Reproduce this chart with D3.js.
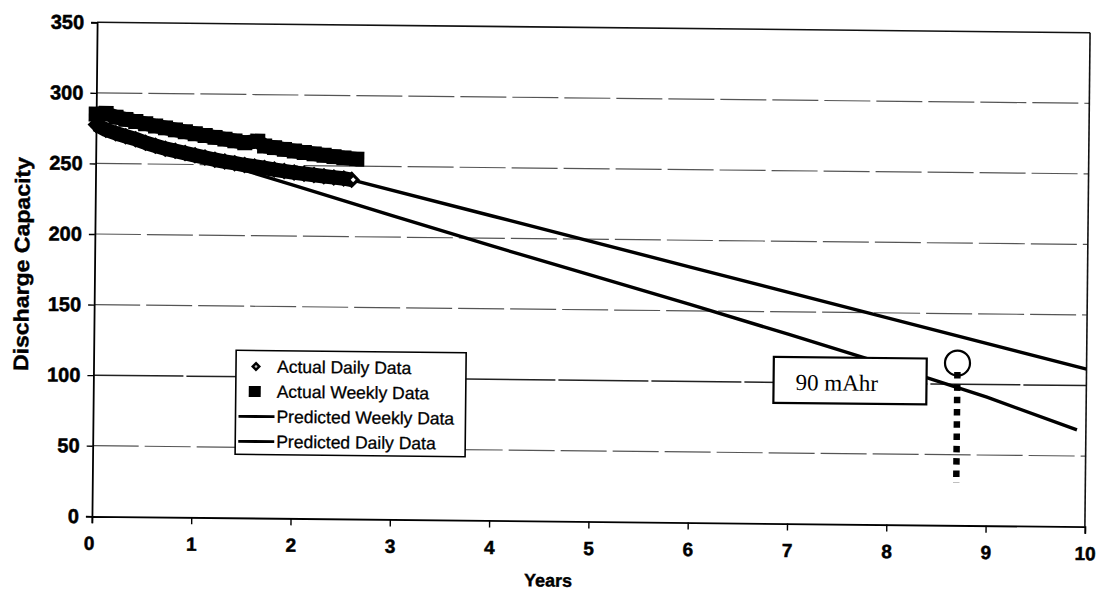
<!DOCTYPE html>
<html><head><meta charset="utf-8">
<script src="https://cdn.jsdelivr.net/npm/d3@7"></script>
<style>body{margin:0;background:#fff} svg{display:block}</style>
</head><body>
<svg id="c" width="1096" height="597"></svg>
<script>
// ---------- data ----------
const xTicks = [0,1,2,3,4,5,6,7,8,9,10];
const yTicks = [0,50,100,150,200,250,300,350];

const dailyYears  = [0.0,0.1,0.2,0.3,0.4,0.5,0.6,0.7,0.8,0.9,1.0,1.1,1.2,1.3,1.4,1.5,1.6,1.7,1.8,1.9,2.0,2.1,2.2,2.3,2.4,2.5,2.58];
const dailyValues = [277.5,274,271.5,269.5,267.5,265,263,261,259.5,258,256.5,255,253.5,252.3,251.2,250,249,248,247,246,245,244.2,243.4,242.6,241.9,241.2,240.3];

const weeklyYears  = [0.0,0.1,0.2,0.3,0.4,0.5,0.6,0.7,0.8,0.9,1.0,1.1,1.2,1.3,1.4,1.5,1.63,1.7,1.8,1.9,2.0,2.1,2.2,2.3,2.4,2.5,2.63];
const weeklyValues = [285,285.5,283,281.5,280,278.5,277,275.7,274.4,273.1,271.8,270.6,269.4,268.2,267,265.8,267,263.6,262.5,261.4,260.3,259.3,258.4,257.5,256.6,255.8,255];

const predWeeklyYears  = [2.58,4,6,8,10];
const predWeeklyValues = [240.3,215.7,181.0,146.3,111.7];

const predDailyYears  = [0,1,2,3,4,5,6,7,8,9,9.91];
const predDailyValues = [277,256.5,236,215,194.5,174.5,154.5,134,113,91,68.5];

const legendLabels = ["Actual Daily Data","Actual Weekly Data","Predicted Weekly Data","Predicted Daily Data"];

const markYear = 8.70, markCircleValue = 115, markLineTop = 108.6, markLineBottom = 30;
const noteText = "90 mAhr";
const noteBox = {x0: 6.85, x1: 8.39, y0: 118, y1: 85.4};

// ---------- layout ----------
const L = 94.5, R = 1087.5, T = 27.5, B = 521.5;
const svg = d3.select("#c");
const g = svg.append("g").attr("transform", "rotate(0.6,591,274.5)");

const x = d3.scaleLinear().domain([0,10]).range([L,R]);
const y = d3.scaleLinear().domain([0,350]).range([B,T]);
const FONT = "'Liberation Sans', Arial, Helvetica, sans-serif";

// gridlines
g.append("g").selectAll("line").data(yTicks.filter(v => v > 0 && v < 350)).join("line")
  .attr("x1", L).attr("x2", R).attr("y1", d => y(d)).attr("y2", d => y(d))
  .attr("stroke", d => d === 100 ? "#222" : "#555")
  .attr("stroke-width", d => d === 100 ? 1.5 : 1.2)
  .attr("stroke-dasharray", d => d === 100 ? "90,3" : "46,6");

// frame top & right
g.append("line").attr("x1", L).attr("x2", R).attr("y1", y(350)).attr("y2", y(350))
  .attr("stroke", "#111").attr("stroke-width", 1.6);
g.append("line").attr("x1", R).attr("x2", R).attr("y1", y(350)).attr("y2", y(0))
  .attr("stroke", "#111").attr("stroke-width", 1.6);

// axes
const yAxis = d3.axisLeft(y).tickValues(yTicks).tickSize(6).tickPadding(7).tickFormat(d3.format("d"));
const xAxis = d3.axisBottom(x).tickValues(xTicks).tickSize(7).tickPadding(13).tickFormat(d3.format("d"));
const ya = g.append("g").attr("transform", `translate(${L},0)`).call(yAxis);
const xa = g.append("g").attr("transform", `translate(0,${B})`).call(xAxis);
[ya, xa].forEach(a => {
  a.select(".domain").attr("stroke", "#000").attr("stroke-width", 1.8);
  a.selectAll(".tick line").attr("stroke", "#000").attr("stroke-width", 1.4);
  a.selectAll(".tick text").attr("font-family", FONT).attr("font-weight", "bold")
    .attr("font-size", 19).attr("fill", "#000").attr("stroke", "#000").attr("stroke-width", 0.5);
});
ya.selectAll(".tick text").attr("font-size", 20);
xa.selectAll(".tick text").filter(d => d === 0).attr("dx", -3);

// axis titles
g.append("text").attr("x", x(4.6)).attr("y", 587).attr("text-anchor", "middle")
  .attr("font-family", FONT).attr("font-weight", "bold").attr("font-size", 18)
  .attr("stroke", "#000").attr("stroke-width", 0.4)
  .text("Years");
g.append("text").attr("transform", "translate(29,270) rotate(-90)").attr("text-anchor", "middle")
  .attr("font-family", FONT).attr("font-weight", "bold").attr("font-size", 21)
  .attr("stroke", "#000").attr("stroke-width", 0.4)
  .attr("textLength", 214).attr("lengthAdjust", "spacingAndGlyphs")
  .text("Discharge Capacity");

// predicted lines
const line = d3.line().x(d => x(d[0])).y(d => y(d[1]));
g.append("path").datum(d3.zip(predWeeklyYears, predWeeklyValues)).attr("d", line)
  .attr("fill", "none").attr("stroke", "#000").attr("stroke-width", 3.4);
g.append("path").datum(d3.zip(predDailyYears, predDailyValues)).attr("d", line)
  .attr("fill", "none").attr("stroke", "#000").attr("stroke-width", 3.4);

// actual data bands + markers
const daily = d3.zip(dailyYears, dailyValues);
const weekly = d3.zip(weeklyYears, weeklyValues);
g.append("path").datum(weekly).attr("d", line).attr("fill", "none")
  .attr("stroke", "#000").attr("stroke-width", 14.5).attr("stroke-linejoin", "round");
g.append("g").selectAll("rect").data(weekly).join("rect")
  .attr("x", d => x(d[0]) - 7.5).attr("y", d => y(d[1]) - 7.5)
  .attr("width", 15).attr("height", 15).attr("fill", "#000");
g.append("path").datum(daily).attr("d", line).attr("fill", "none")
  .attr("stroke", "#000").attr("stroke-width", 14.5).attr("stroke-linejoin", "round");
const diamond = (cx, cy, r) => `M${cx},${cy - r}L${cx + r},${cy}L${cx},${cy + r}L${cx - r},${cy}Z`;
g.append("g").selectAll("path").data(daily).join("path")
  .attr("d", d => diamond(x(d[0]), y(d[1]), 8.5)).attr("fill", "#000");
const last = daily[daily.length - 1];
g.append("path").attr("d", diamond(x(last[0]) + 1.5, y(last[1]), 2.5)).attr("fill", "#fff");

// legend
const lg = g.append("g");
lg.append("rect").attr("x", 237).attr("y", 354).attr("width", 230).attr("height", 104)
  .attr("fill", "#fff").attr("stroke", "#000").attr("stroke-width", 1.6);
const rows = lg.selectAll("g").data(legendLabels).join("g")
  .attr("transform", (d, i) => `translate(0,${370 + i * 25})`);
rows.append("text").attr("x", 278).attr("y", 6).attr("font-family", FONT)
  .attr("font-size", 17.5).attr("fill", "#000").attr("stroke", "#000").attr("stroke-width", 0.3)
  .text(d => d);
rows.filter((d, i) => i === 0).append("path").attr("d", diamond(257, 0, 5)).attr("fill", "#000");
rows.filter((d, i) => i === 0).append("circle").attr("cx", 257).attr("cy", 0).attr("r", 1.3).attr("fill", "#bbb");
rows.filter((d, i) => i === 1).append("rect").attr("x", 250).attr("y", -5.5).attr("width", 12).attr("height", 11).attr("fill", "#000");
rows.filter((d, i) => i >= 2).append("line").attr("x1", 240).attr("x2", 276)
  .attr("stroke", "#000").attr("stroke-width", 2.8);

// annotation
g.append("rect").attr("x", x(noteBox.x0)).attr("y", y(noteBox.y0))
  .attr("width", x(noteBox.x1) - x(noteBox.x0)).attr("height", y(noteBox.y1) - y(noteBox.y0))
  .attr("fill", "#fff").attr("stroke", "#000").attr("stroke-width", 2.2);
g.append("text").attr("x", x(noteBox.x0) + 22).attr("y", y(noteBox.y1) - 13)
  .attr("font-family", "'Liberation Serif', 'Times New Roman', serif").attr("font-size", 23)
  .attr("fill", "#000").text(noteText);
g.append("circle").attr("cx", x(markYear)).attr("cy", y(markCircleValue)).attr("r", 12.5)
  .attr("fill", "none").attr("stroke", "#000").attr("stroke-width", 2.2);
g.append("line").attr("x1", x(markYear)).attr("x2", x(markYear))
  .attr("y1", y(markLineTop)).attr("y2", y(markLineBottom))
  .attr("stroke", "#000").attr("stroke-width", 6.5).attr("stroke-dasharray", "6.5,5.8");
</script>
</body></html>
